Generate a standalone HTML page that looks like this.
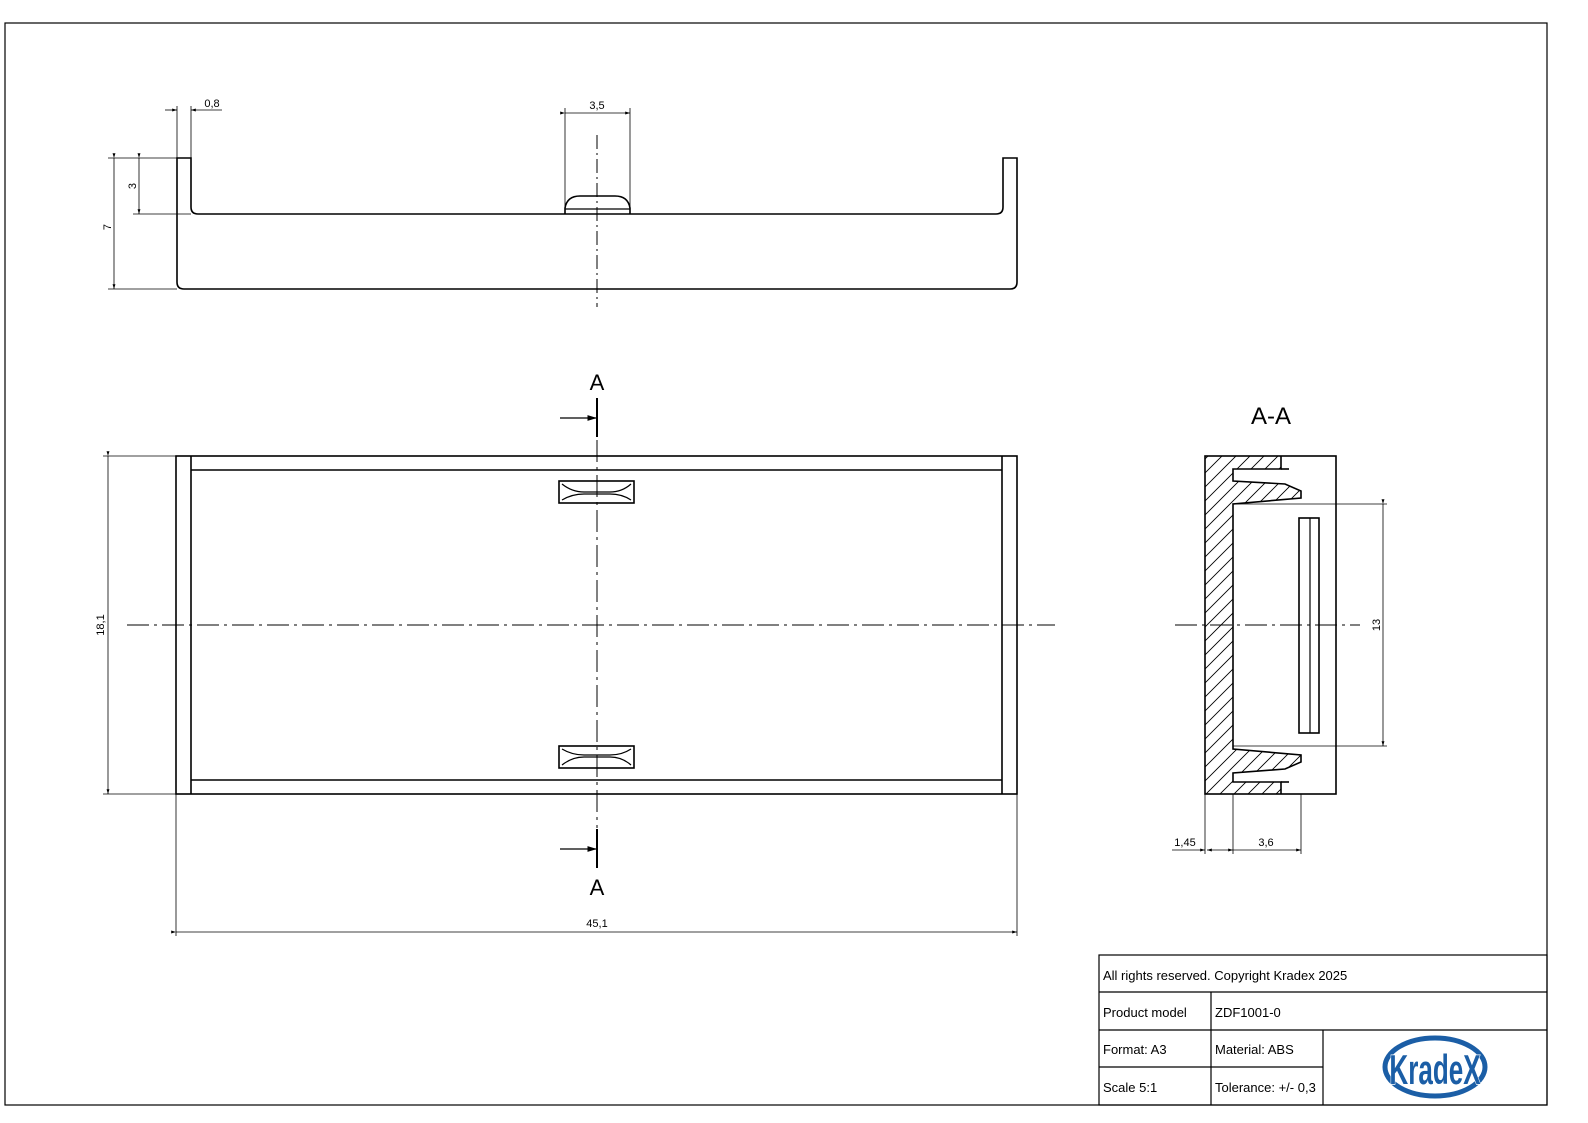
<!DOCTYPE html>
<html><head><meta charset="utf-8"><style>
html,body{margin:0;padding:0;background:#fff;overflow:hidden;width:1588px;height:1123px}
svg{display:block}
text{font-family:"Liberation Sans",sans-serif;fill:#000}
</style></head><body>
<svg width="1588" height="1123" viewBox="0 0 1588 1123" xmlns="http://www.w3.org/2000/svg">
<defs>
<marker id="ar" viewBox="0 0 10 6" refX="10" refY="3" markerWidth="8" markerHeight="5" orient="auto-start-reverse"><path d="M0,0 L10,3 L0,6z" fill="#000"/></marker>
<marker id="arb" viewBox="0 0 10 6" refX="10" refY="3" markerWidth="6" markerHeight="4" orient="auto"><path d="M0,0 L10,3 L0,6z" fill="#000"/></marker>
<clipPath id="mat"><path d="M1205,456 L1281,456 L1281,469 L1233,469 L1233,481 L1285,484 L1301,491 L1301,498 L1233,504 L1233,749 L1301,755 L1301,762 L1285,769 L1233,773 L1233,782 L1281,782 L1281,794 L1205,794Z"/></clipPath>
</defs>
<rect x="5" y="23" width="1542" height="1082" fill="none" stroke="#000" stroke-width="1.2"/>

<!-- TOP VIEW -->
<g fill="none" stroke="#000" stroke-width="1.6">
<path d="M177,158 L177,282 Q177,289 184,289 L1010,289 Q1017,289 1017,282 L1017,158 L1003,158 L1003,207 Q1003,214 996,214 L630,214 L565,214 L198,214 Q191,214 191,207 L191,158 Z"/>
<path d="M565,214 L565,208 Q567,196 580,196 L615,196 Q628,196 630,208 L630,214"/>
<path d="M565,209 L630,209" stroke-width="1.2"/>
</g>
<line x1="597" y1="135" x2="597" y2="307" stroke="#000" stroke-width="1" stroke-dasharray="14,4,2,4"/>
<g stroke="#000" stroke-width="0.8" fill="none">
<line x1="108" y1="158" x2="177" y2="158"/><line x1="108" y1="289" x2="177" y2="289"/><line x1="133" y1="214" x2="191" y2="214"/>
<line x1="114" y1="158" x2="114" y2="289" marker-start="url(#arb)" marker-end="url(#arb)"/>
<line x1="139" y1="158" x2="139" y2="214" marker-start="url(#arb)" marker-end="url(#arb)"/>
<line x1="177" y1="106" x2="177" y2="158"/><line x1="191" y1="106" x2="191" y2="158"/>
<line x1="165" y1="110" x2="177" y2="110" marker-end="url(#arb)"/>
<line x1="222" y1="110" x2="191" y2="110" marker-end="url(#arb)"/>
<line x1="565" y1="108" x2="565" y2="214"/><line x1="630" y1="108" x2="630" y2="214"/>
<line x1="565" y1="113" x2="630" y2="113" marker-start="url(#arb)" marker-end="url(#arb)"/>
</g>
<text x="212" y="107" font-size="11" text-anchor="middle">0,8</text>
<text x="597" y="109" font-size="11" text-anchor="middle">3,5</text>
<text transform="translate(111,227) rotate(-90)" font-size="11" text-anchor="middle">7</text>
<text transform="translate(136,186) rotate(-90)" font-size="11" text-anchor="middle">3</text>

<!-- MAIN VIEW -->
<g fill="none" stroke="#000" stroke-width="1.6">
<rect x="176" y="456" width="841" height="338"/>
<line x1="191" y1="456" x2="191" y2="794"/><line x1="1002" y1="456" x2="1002" y2="794"/>
<line x1="191" y1="470" x2="1002" y2="470"/><line x1="191" y1="780" x2="1002" y2="780"/>
<rect x="559" y="481" width="75" height="22"/>
<path d="M562,484 Q572,492 584,492 L610,492 Q622,492 631,484" stroke-width="1.2"/>
<path d="M562,500 Q572,494 584,494 L610,494 Q622,494 631,500" stroke-width="1.2"/>
<rect x="559" y="746" width="75" height="22"/>
<path d="M562,749 Q572,755 584,755 L610,755 Q622,755 631,749" stroke-width="1.2"/>
<path d="M562,765 Q572,757 584,757 L610,757 Q622,757 631,765" stroke-width="1.2"/>
</g>
<g stroke="#000" stroke-width="1" stroke-dasharray="22,5,3,5">
<line x1="127" y1="625" x2="1055" y2="625"/>
<line x1="597" y1="440" x2="597" y2="828"/>
</g>
<line x1="597" y1="398" x2="597" y2="437" stroke="#000" stroke-width="2"/>
<line x1="597" y1="829" x2="597" y2="868" stroke="#000" stroke-width="2"/>
<line x1="560" y1="418" x2="597" y2="418" stroke="#000" stroke-width="1.2" marker-end="url(#ar)"/>
<line x1="560" y1="849" x2="597" y2="849" stroke="#000" stroke-width="1.2" marker-end="url(#ar)"/>
<text x="597" y="390" font-size="22" text-anchor="middle">A</text>
<text x="597" y="895" font-size="22" text-anchor="middle">A</text>
<g stroke="#000" stroke-width="0.8">
<line x1="103" y1="456" x2="176" y2="456"/><line x1="103" y1="794" x2="176" y2="794"/>
<line x1="108" y1="456" x2="108" y2="794" marker-start="url(#arb)" marker-end="url(#arb)"/>
<line x1="176" y1="794" x2="176" y2="936"/><line x1="1017" y1="794" x2="1017" y2="936"/>
<line x1="176" y1="932" x2="1017" y2="932" marker-start="url(#arb)" marker-end="url(#arb)"/>
</g>
<text transform="translate(104,625) rotate(-90)" font-size="11" text-anchor="middle">18,1</text>
<text x="597" y="927" font-size="11" text-anchor="middle">45,1</text>

<!-- SECTION A-A -->
<text x="1271" y="424" font-size="24" text-anchor="middle">A-A</text>
<g clip-path="url(#mat)" stroke="#000" stroke-width="0.9">
<path d="M1100,900 L1500,500 M1100,886 L1500,486 M1100,872 L1500,472 M1100,858 L1500,458 M1100,844 L1500,444 M1100,830 L1500,430 M1100,816 L1500,416 M1100,802 L1500,402 M1100,788 L1500,388 M1100,774 L1500,374 M1100,760 L1500,360 M1100,746 L1500,346 M1100,732 L1500,332 M1100,718 L1500,318 M1100,704 L1500,304 M1100,690 L1500,290 M1100,676 L1500,276 M1100,662 L1500,262 M1100,648 L1500,248 M1100,634 L1500,234 M1100,620 L1500,220 M1100,606 L1500,206 M1100,592 L1500,192 M1100,578 L1500,178 M1100,564 L1500,164 M1100,550 L1500,150 M1100,536 L1500,136 M1100,522 L1500,122 M1100,508 L1500,108 M1100,914 L1500,514 M1100,928 L1500,528 M1100,942 L1500,542 M1100,956 L1500,556 M1100,970 L1500,570 M1100,984 L1500,584 M1100,998 L1500,598 M1100,1012 L1500,612 M1100,1026 L1500,626 M1100,1040 L1500,640"/>
</g>
<g fill="none" stroke="#000" stroke-width="1.6">
<rect x="1205" y="456" width="131" height="338"/>
<path d="M1281,456 L1281,469 L1233,469 L1233,481 L1285,484 L1301,491 L1301,498 L1233,504 L1233,749 L1301,755 L1301,762 L1285,769 L1233,773 L1233,782 L1281,782 L1281,794"/>
<line x1="1281" y1="469" x2="1289" y2="469"/><line x1="1281" y1="782" x2="1289" y2="782"/>
<rect x="1299" y="518" width="20" height="215"/>
<line x1="1310" y1="518" x2="1310" y2="733" stroke-width="1.2"/>
</g>
<line x1="1175" y1="625" x2="1360" y2="625" stroke="#000" stroke-width="1" stroke-dasharray="22,5,3,5"/>
<g stroke="#000" stroke-width="0.8">
<line x1="1233" y1="504" x2="1387" y2="504"/><line x1="1233" y1="746" x2="1387" y2="746"/>
<line x1="1383" y1="504" x2="1383" y2="746" marker-start="url(#arb)" marker-end="url(#arb)"/>
<line x1="1205" y1="794" x2="1205" y2="854"/><line x1="1233" y1="794" x2="1233" y2="854"/><line x1="1301" y1="794" x2="1301" y2="854"/>
<line x1="1172" y1="850" x2="1205" y2="850" marker-end="url(#arb)"/>
<line x1="1233" y1="850" x2="1207" y2="850" marker-end="url(#arb)"/>
<line x1="1233" y1="850" x2="1301" y2="850" marker-start="url(#arb)" marker-end="url(#arb)"/>
</g>
<text transform="translate(1380,625) rotate(-90)" font-size="11" text-anchor="middle">13</text>
<text x="1185" y="846" font-size="11" text-anchor="middle">1,45</text>
<text x="1266" y="846" font-size="11" text-anchor="middle">3,6</text>

<!-- TITLE BLOCK -->
<g fill="none" stroke="#000" stroke-width="1.2">
<rect x="1099" y="955" width="448" height="150"/>
<line x1="1099" y1="992" x2="1547" y2="992"/>
<line x1="1099" y1="1030" x2="1547" y2="1030"/>
<line x1="1099" y1="1067" x2="1323" y2="1067"/>
<line x1="1211" y1="992" x2="1211" y2="1105"/>
<line x1="1323" y1="1030" x2="1323" y2="1105"/>
</g>
<g font-size="13">
<text x="1103" y="980">All rights reserved. Copyright Kradex 2025</text>
<text x="1103" y="1017">Product model</text>
<text x="1215" y="1017">ZDF1001-0</text>
<text x="1103" y="1054">Format: A3</text>
<text x="1215" y="1054">Material: ABS</text>
<text x="1103" y="1092">Scale 5:1</text>
<text x="1215" y="1092">Tolerance: +/- 0,3</text>
</g>
<ellipse cx="1435" cy="1067" rx="50" ry="29" fill="none" stroke="#1b5ea6" stroke-width="5"/>
<text x="1435" y="1084" font-size="42" font-weight="bold" text-anchor="middle" fill="#1b5ea6" style="fill:#1b5ea6" transform="translate(1435,0) scale(0.62,1) translate(-1435,0)" stroke="#fff" stroke-width="1.5" paint-order="stroke">KradeX</text>
</svg>
</body></html>
